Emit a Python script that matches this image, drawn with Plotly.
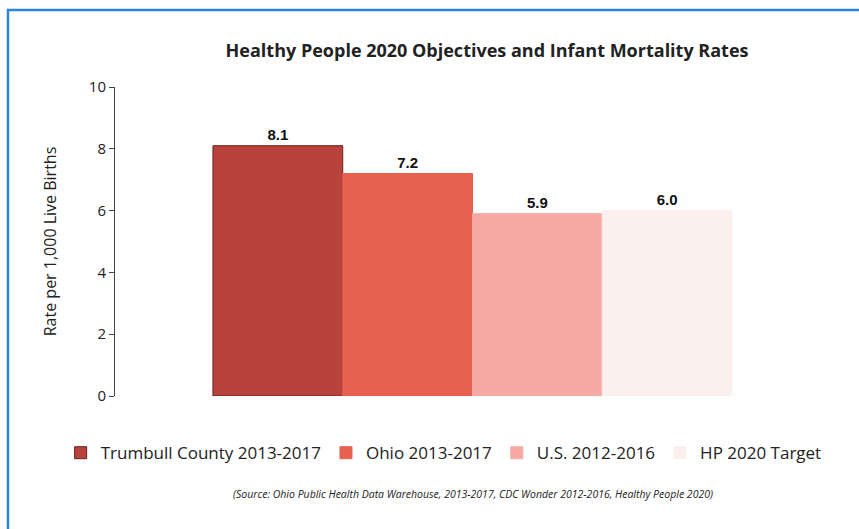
import plotly.graph_objects as go

series = ["Trumbull County 2013-2017", "Ohio 2013-2017", "U.S. 2012-2016", "HP 2020 Target"]
values = [8.1, 7.2, 5.9, 6.0]
labels = ["8.1", "7.2", "5.9", "6.0"]
colors = ["#b8423c", "#e8604f", "#f5aaa5", "#fcf0ef"]
lines = ["#6e1f1c", "#e8604f", "#f5aaa5", "#fcf0ef"]
category = ["Rates"]

fig = go.Figure()
for name, v, lab, c, lc in zip(series, values, labels, colors, lines):
    fig.add_trace(go.Bar(
        x=category, y=[v], name=name, text=["<b>" + lab + "</b>"], textposition="outside",
        marker=dict(color=c, line=dict(color=lc, width=1)),
        textfont=dict(family="Arial", size=15, color="#111111"),
        cliponaxis=False,
    ))

fig.update_layout(
    width=859, height=529,
    paper_bgcolor="white", plot_bgcolor="white",
    margin=dict(l=115, r=29, t=87, b=133),
    barmode="group", bargap=0.274, bargroupgap=0,
    title=dict(text="<b>Healthy People 2020 Objectives and Infant Mortality Rates</b>",
               x=0.567, xanchor="center", y=0.905, yanchor="middle",
               font=dict(family="Open Sans", size=18, color="#222222")),
    font=dict(family="Open Sans", size=14, color="#222222"),
    xaxis=dict(showticklabels=False, showline=False, showgrid=False, zeroline=False),
    yaxis=dict(range=[0, 10], dtick=2, showgrid=False, zeroline=False,
               showline=True, linecolor="#444444", linewidth=1,
               ticks="outside", ticklen=5, tickcolor="#444444",
               tickfont=dict(family="Open Sans", size=15, color="#222222"),
               title=dict(text="Rate per 1,000 Live Births", standoff=28,
                          font=dict(family="Open Sans", size=16, color="#222222"))),
    legend=dict(orientation="h", x=-0.076, xanchor="left", y=-0.185, yanchor="middle",
                font=dict(family="Open Sans", size=17, color="#222222"),
                itemwidth=30, traceorder="normal"),
    showlegend=True,
)

fig.add_annotation(
    text="<i>(Source: Ohio Public Health Data Warehouse, 2013-2017, CDC Wonder 2012-2016, Healthy People 2020)</i>",
    xref="paper", yref="paper", x=0.5, y=-0.318, xanchor="center", yanchor="middle",
    showarrow=False, font=dict(family="Open Sans", size=10.5, color="#222222"))

fig.add_shape(type="rect", xref="paper", yref="paper",
              x0=-0.1497, x1=1.06, y0=-0.47, y1=1.249,
              line=dict(color="#2b86d9", width=2.5), layer="below")

fig.write_html("out.html", config={"displayModeBar": False},
               post_script="document.body.style.margin='0';")
